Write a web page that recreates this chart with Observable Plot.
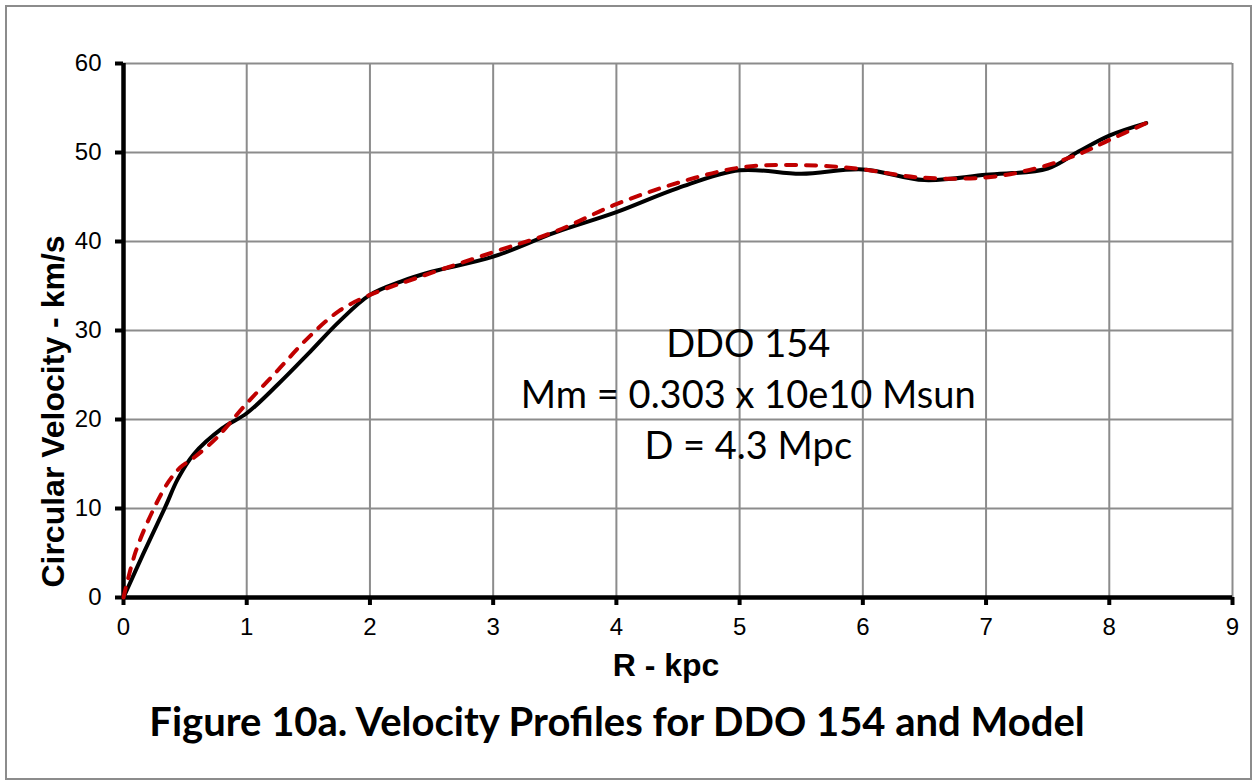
<!DOCTYPE html>
<html>
<head>
<meta charset="utf-8">
<script src="https://cdn.jsdelivr.net/npm/d3@7"></script>
<script src="https://cdn.jsdelivr.net/npm/@observablehq/plot@0.6"></script>
<style>
  html, body { margin: 0; padding: 0; background: #fff; }
  #page { position: relative; width: 1254px; height: 782px; overflow: hidden; }
  #frame { position: absolute; left: 5px; top: 5px; width: 1243px; height: 771px; border: 2px solid #8c8c8c; }
  #chart { position: absolute; left: 0; top: 0; }
  #caption { position: absolute; left: 0; top: 697px; width: 1234px; text-align: center;
             font-family: Lato, "Open Sans", sans-serif; font-weight: bold; font-size: 40px; color: #000; }
</style>
</head>
<body>
<div id="page">
  <div id="frame"></div>
  <div id="chart"></div>
  <div id="caption"></div>
</div>
<script>
// ---- data ----
const xTicks = [0, 1, 2, 3, 4, 5, 6, 7, 8, 9];
const yTicks = [0, 10, 20, 30, 40, 50, 60];

const obsR = [0, 0.16, 0.34, 0.44, 0.57, 0.8, 1.0, 1.25, 1.5, 1.75, 2.0, 2.25, 2.5, 3.0, 3.5, 4.0, 4.5, 5.0, 5.5, 6.0, 6.5, 7.0, 7.5, 7.75, 8.0, 8.3];
const obsV = [0, 4.9, 10.2, 13.3, 16.1, 19.0, 20.7, 23.9, 27.4, 31.0, 34.0, 35.5, 36.6, 38.3, 41.0, 43.3, 46.0, 48.0, 47.6, 48.1, 46.9, 47.5, 48.2, 50.1, 51.9, 53.3];

const modR = [0, 0.1, 0.25, 0.37, 0.46, 0.57, 0.76, 0.98, 1.25, 1.5, 1.75, 2.0, 2.4, 3.0, 3.5, 4.0, 4.5, 5.0, 5.45, 5.95, 6.45, 7.0, 7.4, 7.75, 8.0, 8.3];
const modV = [0, 5.2, 10.1, 13.1, 14.6, 15.7, 18.0, 21.5, 25.5, 29.2, 32.2, 34.0, 36.0, 38.8, 41.1, 44.2, 46.6, 48.3, 48.6, 48.2, 47.2, 47.2, 48.2, 49.8, 51.4, 53.3];

const annotationLines = ["DDO 154", "Mm = 0.303 x 10e10 Msun", "D = 4.3 Mpc"];
const annotationY = [28.4, 22.7, 16.9];
const annotationX = 5.07;

const xTitle = "R - kpc";
const yTitle = "Circular Velocity - km/s";
const captionText = "Figure 10a. Velocity Profiles for DDO 154 and Model";

// ---- build ----
const obs = obsR.map((r, i) => ({r, v: obsV[i]}));
const mod = modR.map((r, i) => ({r, v: modV[i]}));
const ann = annotationLines.map((t, i) => ({t, y: annotationY[i]}));

const tickFont = "'Liberation Sans', Arial, sans-serif";
const calibriLike = "Lato, 'Open Sans', sans-serif";

const chart = Plot.plot({
  width: 1254,
  height: 690,
  marginLeft: 123,
  marginRight: 22,
  marginTop: 63,
  marginBottom: 93,
  style: {background: "transparent", color: "#000"},
  x: {domain: [0, 9]},
  y: {domain: [0, 60]},
  marks: [
    Plot.gridX(xTicks, {stroke: "#8c8c8c", strokeOpacity: 1, strokeWidth: 2}),
    Plot.gridY(yTicks, {stroke: "#8c8c8c", strokeOpacity: 1, strokeWidth: 2}),
    Plot.axisX(xTicks, {tickSize: 8, tickPadding: 12, strokeWidth: 4, fontSize: 24, fontFamily: tickFont, tickFormat: d => String(d), label: null}),
    Plot.axisY(yTicks, {tickSize: 8, tickPadding: 14, strokeWidth: 4, fontSize: 24, fontFamily: tickFont, tickFormat: d => String(d), label: null}),
    Plot.ruleY([0], {stroke: "#000", strokeWidth: 4.5}),
    Plot.ruleX([0], {stroke: "#000", strokeWidth: 4.5}),
    Plot.line(obs, {x: "r", y: "v", curve: "catmull-rom", stroke: "#000", strokeWidth: 4}),
    Plot.line(mod, {x: "r", y: "v", curve: "catmull-rom", stroke: "#c00000", strokeWidth: 4, strokeDasharray: "10,10", strokeLinecap: "round"}),
    Plot.text(ann, {x: annotationX, y: "y", text: "t", fontSize: 38, fontFamily: calibriLike, fill: "#000", textAnchor: "middle", lineAnchor: "middle"}),
    Plot.text([xTitle], {frameAnchor: "bottom", textAnchor: "middle", dx: -12, dy: 68, fontSize: 32, fontWeight: "bold", fontFamily: tickFont, fill: "#000", lineAnchor: "middle"}),
    Plot.text([yTitle], {frameAnchor: "left", textAnchor: "middle", rotate: -90, dx: -70, dy: 81, fontSize: 32, fontWeight: "bold", fontFamily: tickFont, fill: "#000", lineAnchor: "middle"})
  ]
});
document.getElementById("chart").appendChild(chart);
document.getElementById("caption").textContent = captionText;
</script>
</body>
</html>
